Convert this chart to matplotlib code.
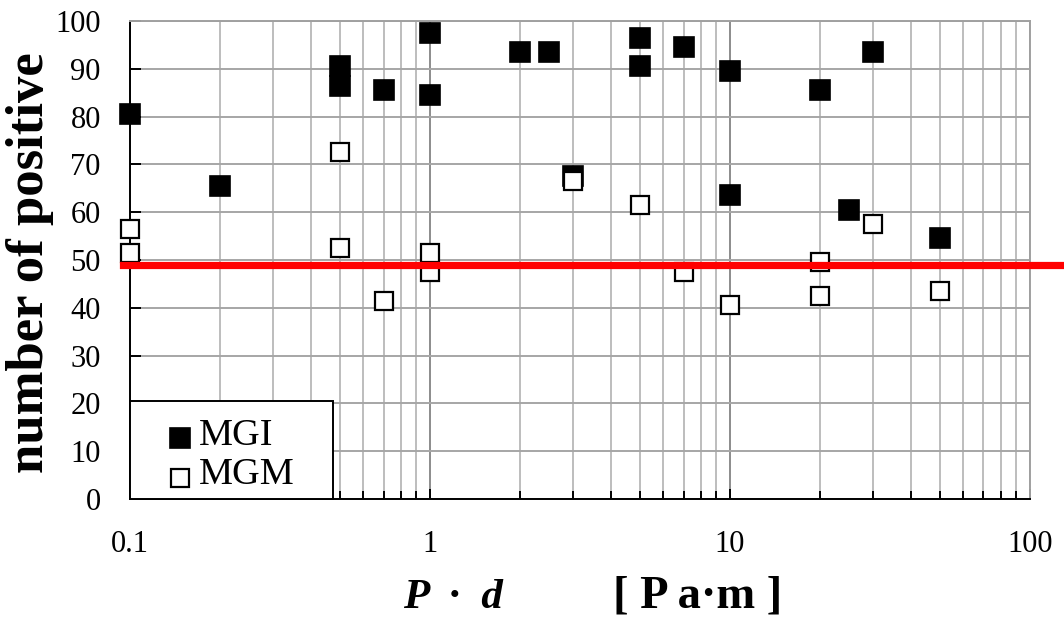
import numpy as np
import matplotlib.pyplot as plt
from matplotlib.patches import Rectangle
from matplotlib.ticker import LogLocator, NullFormatter, FixedLocator

plt.rcParams['font.family'] = ['Liberation Serif', 'DejaVu Serif']

# MGI (filled squares)
mgi_pd = [0.1, 0.2, 0.5, 0.5, 0.7, 1, 1, 2, 2.5, 3, 5, 5, 7, 10, 10, 20, 25, 30, 50]
mgi_pos = [80.5, 65.5, 90.5, 86.5, 85.5, 97.5, 84.5, 93.5, 93.5, 67.5, 96.5, 90.5,
           94.5, 89.5, 63.5, 85.5, 60.5, 93.5, 54.5]

# MGM (open squares)
mgm_pd = [0.1, 0.1, 0.5, 0.5, 0.7, 1, 1, 3, 5, 7, 10, 20, 20, 30, 50]
mgm_pos = [56.5, 51.5, 72.5, 52.5, 41.5, 51.5, 47.5, 66.5, 61.5, 47.5, 40.5, 49.5,
           42.5, 57.5, 43.5]

threshold = 49
x_ticks = [0.1, 1, 10, 100]
x_ticklabels = ['0.1', '1', '10', '100']
y_ticks = list(range(0, 101, 10))

fig = plt.figure(figsize=(10.64, 6.21), dpi=100)
ax = fig.add_axes([0.1222, 0.1965, 0.8458, 0.7697])

ax.set_xscale('log')
ax.set_xlim(0.1, 100)
ax.set_ylim(0, 100)

# grid
ax.xaxis.set_major_locator(FixedLocator(x_ticks))
ax.xaxis.set_minor_locator(LogLocator(base=10, subs=np.arange(2, 10)))
ax.xaxis.set_minor_formatter(NullFormatter())
ax.set_xticklabels(x_ticklabels)
ax.set_yticks(y_ticks)
ax.grid(which='major', axis='x', color='#8c8c8c', lw=1.4)
ax.grid(which='minor', axis='x', color='#bdbdbd', lw=1.4)
ax.grid(which='major', axis='y', color='#a6a6a6', lw=1.4)
ax.set_axisbelow(True)

for side in ('top', 'right'):
    ax.spines[side].set_color('#a0a0a0')
    ax.spines[side].set_linewidth(1.4)
for side in ('left', 'bottom'):
    ax.spines[side].set_color('black')
    ax.spines[side].set_linewidth(1.4)

ax.tick_params(axis='both', which='both', direction='in', color='black', width=1.4,
               labelsize=22, top=False, right=False)
ax.tick_params(axis='y', which='major', length=8, pad=21)
ax.tick_params(axis='x', which='major', length=7, pad=22)
ax.tick_params(axis='x', which='minor', length=6)

ax.plot(mgi_pd, mgi_pos, ls='none', marker='s', ms=14.5, mfc='black', mec='black',
        mew=1.2, label='MGI', clip_on=False, zorder=3)
ax.plot(mgm_pd, mgm_pos, ls='none', marker='s', ms=13.5, mfc='white', mec='black',
        mew=1.6, label='MGM', clip_on=False, zorder=3)

# threshold line runs past the right edge of the plot
ax.axhline(threshold, xmin=-0.008, xmax=1.1, color='#ff0000', lw=5.2,
           clip_on=False, zorder=4)

# legend box in the lower left corner
ax.add_patch(Rectangle((0, 0), 0.2256, 0.205, transform=ax.transAxes,
                       facecolor='white', edgecolor='black', lw=1.4, zorder=5,
                       clip_on=False))
leg = ax.legend(loc='center left', bbox_to_anchor=(0.0412, 0.092), borderaxespad=0,
                borderpad=0, frameon=False, fontsize=27.5,
                handlelength=0.7, handletextpad=0.13, labelspacing=0.12)
leg.set_zorder(6)
for h in leg.legend_handles:
    h.set_ydata(np.asarray(h.get_ydata()) - 5)

ax.set_ylabel('number of positive', fontsize=38, fontweight='bold')
ax.yaxis.set_label_coords(-0.084, 0.495)

fig.text(0.4258, 0.021, 'P  ·  d', fontsize=31, fontweight='bold', fontstyle='italic',
         ha='center', va='baseline')
fig.text(0.656, 0.021, '[ P a·m ]', fontsize=33.5, fontweight='bold',
         ha='center', va='baseline')

fig.savefig('out.png', dpi=100)
